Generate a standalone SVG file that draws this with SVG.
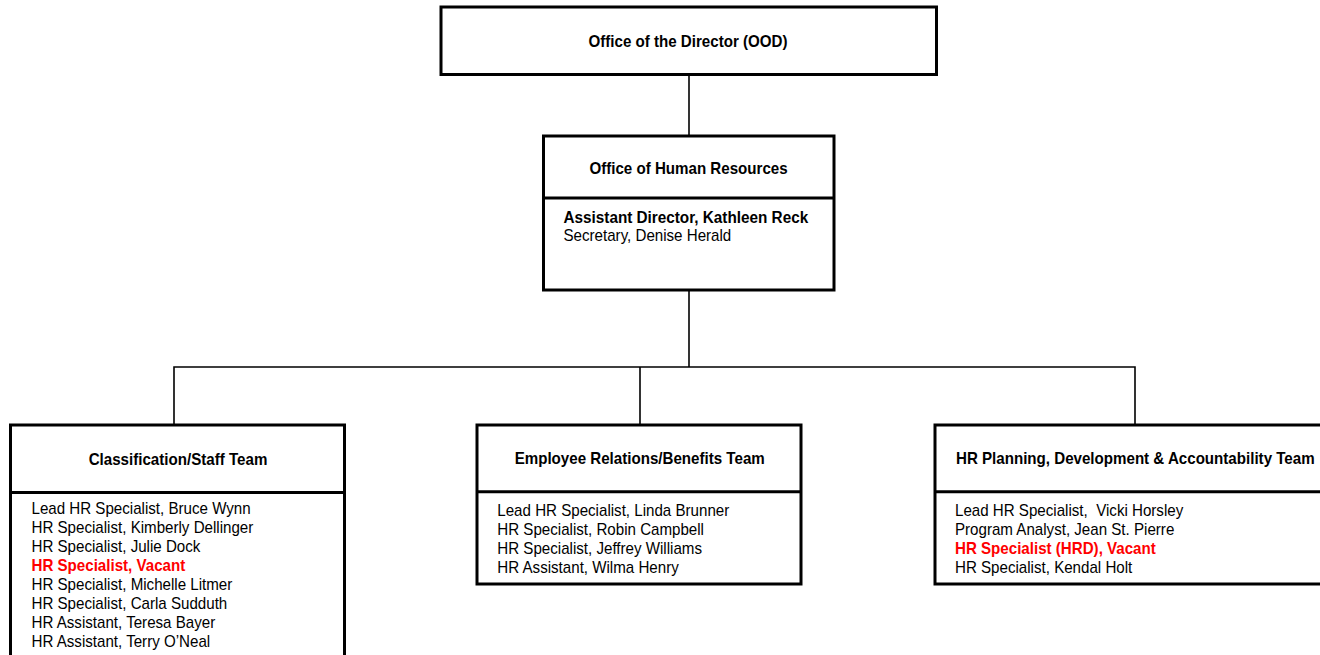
<svg xmlns="http://www.w3.org/2000/svg" width="1320" height="655" viewBox="0 0 1320 655">
<style>
.box{fill:#fff;stroke:#000;stroke-width:3}
.div{stroke:#000;stroke-width:3}
.con{stroke:#000;stroke-width:1.6;fill:none}
text{font-family:"Liberation Sans",Arial,sans-serif;font-size:17px;fill:#000;white-space:pre}
.t{font-weight:bold;text-anchor:middle}
.h{font-weight:bold}
.r{font-weight:bold;fill:#ff0000}
</style>
<rect width="1320" height="655" fill="#fff"/>
<g id="connectors">
<line class="con" x1="689" y1="74" x2="689" y2="136"/>
<line class="con" x1="689" y1="290" x2="689" y2="367"/>
<polyline class="con" points="174,425 174,367 1135,367 1135,425"/>
<line class="con" x1="640" y1="367" x2="640" y2="425"/>
</g>
<g id="ood">
<rect class="box" x="441" y="7" width="495.5" height="67.5"/>
<text class="t" transform="translate(688 46.5) scale(0.89 1)">Office of the Director (OOD)</text>
</g>
<g id="ohr">
<rect class="box" x="543.5" y="136" width="290.5" height="154"/>
<line class="div" x1="543.5" y1="198" x2="834" y2="198"/>
<text class="t" transform="translate(688.5 174) scale(0.89 1)">Office of Human Resources</text>
<text class="h" transform="translate(563.5 223) scale(0.9 1)">Assistant Director, Kathleen Reck</text>
<text transform="translate(563.5 241) scale(0.89 1)">Secretary, Denise Herald</text>
</g>
<g id="classification">
<rect class="box" x="10.5" y="425" width="334" height="245"/>
<line class="div" x1="10.5" y1="492.5" x2="344.5" y2="492.5"/>
<text class="t" transform="translate(178 465) scale(0.89 1)">Classification/Staff Team</text>
<g transform="translate(31.5 0)">
<text transform="translate(0 514.3) scale(0.89 1)">Lead HR Specialist, Bruce Wynn</text>
<text transform="translate(0 533.3) scale(0.89 1)">HR Specialist, Kimberly Dellinger</text>
<text transform="translate(0 552.3) scale(0.89 1)">HR Specialist, Julie Dock</text>
<text class="r" transform="translate(0 571.3) scale(0.89 1)">HR Specialist, Vacant</text>
<text transform="translate(0 590.3) scale(0.89 1)">HR Specialist, Michelle Litmer</text>
<text transform="translate(0 609.3) scale(0.89 1)">HR Specialist, Carla Sudduth</text>
<text transform="translate(0 628.3) scale(0.89 1)">HR Assistant, Teresa Bayer</text>
<text transform="translate(0 647.3) scale(0.89 1)">HR Assistant, Terry O’Neal</text>
</g>
</g>
<g id="employee-relations">
<rect class="box" x="477" y="425" width="324" height="159"/>
<line class="div" x1="477" y1="491.7" x2="801" y2="491.7"/>
<text class="t" transform="translate(639.7 464.3) scale(0.89 1)">Employee Relations/Benefits Team</text>
<g transform="translate(497.3 0)">
<text transform="translate(0 515.5) scale(0.89 1)">Lead HR Specialist, Linda Brunner</text>
<text transform="translate(0 534.5) scale(0.89 1)">HR Specialist, Robin Campbell</text>
<text transform="translate(0 553.5) scale(0.89 1)">HR Specialist, Jeffrey Williams</text>
<text transform="translate(0 572.5) scale(0.89 1)">HR Assistant, Wilma Henry</text>
</g>
</g>
<g id="hr-planning">
<rect class="box" x="935" y="425" width="400" height="159"/>
<line class="div" x1="935" y1="491.7" x2="1335" y2="491.7"/>
<text class="t" transform="translate(1135.3 464.3) scale(0.89 1)">HR Planning, Development &amp; Accountability Team</text>
<g transform="translate(955 0)">
<text transform="translate(0 515.5) scale(0.89 1)">Lead HR Specialist,  Vicki Horsley</text>
<text transform="translate(0 534.5) scale(0.89 1)">Program Analyst, Jean St. Pierre</text>
<text class="r" transform="translate(0 553.5) scale(0.89 1)">HR Specialist (HRD), Vacant</text>
<text transform="translate(0 572.5) scale(0.89 1)">HR Specialist, Kendal Holt</text>
</g>
</g>
</svg>
